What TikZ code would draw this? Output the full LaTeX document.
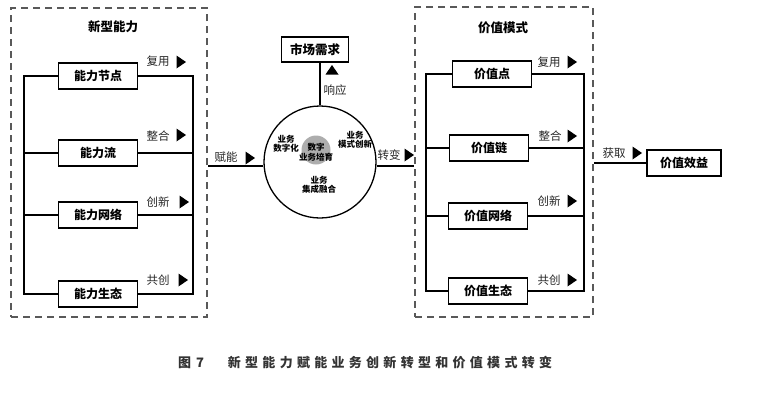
\documentclass[tikz,border=0pt]{standalone}
\usepackage{fontspec}
\setmainfont{Noto Sans CJK SC}
\begin{document}
\begin{tikzpicture}[x=1pt,y=-1pt,
  bus/.style={line width=2.2pt},
  conn/.style={line width=2pt},
  box/.style={draw,line width=1.3pt,minimum width=79pt,minimum height=26pt,inner sep=0pt,fill=white,font=\fontsize{12}{14}\selectfont\bfseries},
  grp/.style={draw=black!65,line width=1.5pt,dash pattern=on 7pt off 5pt,inner sep=0pt},
  lab/.style={font=\fontsize{11.5}{13}\selectfont,inner sep=0pt,text=black!85},
  ttl/.style={font=\fontsize{12.5}{14}\selectfont\bfseries,inner sep=0pt},
  ctext/.style={font=\fontsize{8.5}{9.5}\selectfont\bfseries,align=center,inner sep=0pt},
  rtri/.pic={\fill (-4.5,-6.5) -- (5,0) -- (-4.5,6.5) -- cycle;},
  utri/.pic={\fill (-6.5,4.5) -- (0,-5) -- (6.5,4.5) -- cycle;}
]
\useasboundingbox (0,0) rectangle (763,394);

% ---------- left group ----------
\node[grp,minimum width=196pt,minimum height=309pt] (G1) at (109,162.5) {};
\node[ttl] (t1) at (113,27) {新型能力};
\coordinate (L1) at (24,0);
\coordinate (R1) at (193,0);
\node[box] (n1) at (98,76) {能力节点};
\node[box] (n2) at (98,153) {能力流};
\node[box] (n3) at (98,215) {能力网络};
\node[box] (n4) at (98,294) {能力生态};
\draw[bus] (n1.west) -- (n1.west -| L1) -- (n4.west -| L1) -- (n4.west);
\draw[bus] (n2.west) -- (n2.west -| L1);
\draw[bus] (n3.west) -- (n3.west -| L1);
\draw[bus] (n1.east) -- (n1.east -| R1) -- (n4.east -| R1) -- (n4.east);
\draw[bus] (n2.east) -- (n2.east -| R1);
\draw[bus] (n3.east) -- (n3.east -| R1);
\node[lab] (a1) at (158,61) {复用};
\node[lab] (a2) at (158,136) {整合};
\node[lab] (a3) at (158,202) {创新};
\node[lab] (a4) at (158,280) {共创};
\pic at (181,62) {rtri};
\pic at (181,135) {rtri};
\pic at (184,202) {rtri};
\pic at (183,280) {rtri};

% ---------- centre ----------
\node[circle,draw,line width=1.3pt,minimum size=112pt,inner sep=0pt] (c) at (320,162) {};
\node[circle,fill=black!32,minimum size=29pt,inner sep=0pt] (g) at (316,150) {};
\node[ctext] (c1) at (286,144) {业务\\数字化};
\node[ctext] (c2) at (316,152) {数字\\业务培育};
\node[ctext] (c3) at (355,140) {业务\\模式创新};
\node[ctext] (c4) at (319,185) {业务\\集成融合};
\node[box,minimum width=67pt,minimum height=25pt,font=\fontsize{12.5}{14}\selectfont\bfseries] (m) at (315,49.5) {市场需求};
\draw[conn] (m.south -| c.north) -- (c.north);
\pic at (332,70) {utri};
\node[lab] (r) at (335,90) {响应};

\draw[conn] (c.184) -- (c.184 -| G1.east);
\node[lab] (b1) at (226,157) {赋能};
\pic at (250,158) {rtri};

% ---------- right group ----------
\node[grp,minimum width=178pt,minimum height=310pt] (G2) at (504,162) {};
\node[ttl] (t2) at (503,28) {价值模式};
\coordinate (L2) at (426,0);
\coordinate (R2) at (584,0);
\node[box] (v1) at (492,74) {价值点};
\node[box] (v2) at (489,148) {价值链};
\node[box] (v3) at (488,216) {价值网络};
\node[box] (v4) at (488,291) {价值生态};
\draw[bus] (v1.west) -- (v1.west -| L2) -- (v4.west -| L2) -- (v4.west);
\draw[bus] (v2.west) -- (v2.west -| L2);
\draw[bus] (v3.west) -- (v3.west -| L2);
\draw[bus] (v1.east) -- (v1.east -| R2) -- (v4.east -| R2) -- (v4.east);
\draw[bus] (v2.east) -- (v2.east -| R2);
\draw[bus] (v3.east) -- (v3.east -| R2);
\node[lab] (d1) at (549,62) {复用};
\node[lab] (d2) at (550,136) {整合};
\node[lab] (d3) at (549,201) {创新};
\node[lab] (d4) at (549,280) {共创};
\pic at (572,62) {rtri};
\pic at (572,136) {rtri};
\pic at (572,201) {rtri};
\pic at (572,280) {rtri};

\draw[conn] (c.356) -- (c.356 -| G2.west);
\node[lab] (b2) at (389,155) {转变};
\pic at (409,155) {rtri};

% ---------- output ----------
\node[box,minimum width=74pt] (e) at (684,163) {价值效益};
\draw[conn] (e.west) -- (e.west -| G2.east);
\node[lab] (b3) at (614,153) {获取};
\pic at (637,153) {rtri};

% ---------- caption ----------
\node[font=\fontsize{13}{15}\selectfont\bfseries,text=black!80,inner sep=0pt] (f) at (191,363) {图\hspace{5pt}7};
\node[font=\fontsize{13}{15}\selectfont\bfseries\addfontfeature{LetterSpace=33},text=black!80,inner sep=0pt] (cap) at (390,363) {新型能力赋能业务创新转型和价值模式转变};
\end{tikzpicture}
\end{document}
